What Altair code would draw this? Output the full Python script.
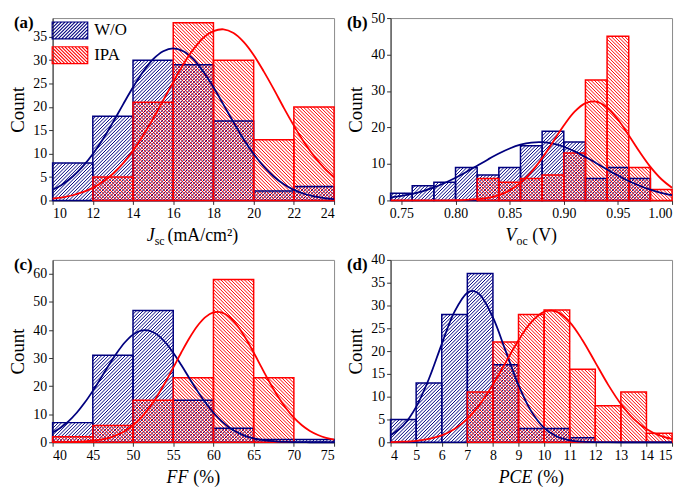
import math
import altair as alt
import pandas as pd

NAVY = "#00007f"
RED = "#ff0000"
FONT = "Liberation Serif"
W, H = 284, 184
STEP = 3.4

# ---------------- data ----------------
# (a) Jsc
a_edges = [10, 12, 14, 16, 18, 20, 22, 24]
a_wo = [8, 18, 30, 29, 17, 2, 3]
a_ipa = [0, 5, 21, 38, 30, 13, 20]
a_cx = [10, 10.5, 11, 11.5, 12, 12.5, 13, 13.5, 14, 14.5, 15, 15.5, 16, 16.5, 17,
        17.5, 18, 18.5, 19, 19.5, 20, 20.5, 21, 21.5, 22, 22.5, 23, 23.5, 24]
a_cwo = [2.27, 3.47, 5.12, 7.27, 9.95, 13.1, 16.7, 20.5, 24.2, 27.5, 30.2, 31.9, 32.5, 31.9, 30.2,
         27.5, 24.2, 20.5, 16.7, 13.1, 9.95, 7.27, 5.12, 3.47, 2.27, 1.43, 0.87, 0.51, 0.29]
a_cipa = [0.41, 0.68, 1.11, 1.76, 2.69, 3.98, 5.70, 7.92, 10.65, 13.9, 17.5, 21.4, 25.3, 29.1, 32.3,
          34.8, 36.2, 36.6, 35.8, 33.9, 31.1, 27.6, 23.8, 19.8, 16.0, 12.5, 9.49, 6.97, 4.95]
a_xticks = [10, 12, 14, 16, 18, 20, 22, 24]
a_yticks = [0, 5, 10, 15, 20, 25, 30, 35]

# (b) Voc
b_edges = [0.74, 0.76, 0.78, 0.80, 0.82, 0.84, 0.86, 0.88, 0.90, 0.92, 0.94, 0.96, 0.98, 1.00]
b_wo = [2, 4, 5, 9, 7, 9, 15, 19, 16, 6, 9, 6, 0]
b_ipa = [0, 0, 0, 0, 6, 5, 6, 7, 13, 33, 45, 9, 3]
b_cx = [0.74, 0.75, 0.76, 0.77, 0.78, 0.79, 0.80, 0.81, 0.82, 0.83, 0.84, 0.85, 0.86, 0.87,
        0.88, 0.89, 0.90, 0.91, 0.92, 0.93, 0.94, 0.95, 0.96, 0.97, 0.98, 0.99, 1.00]
b_cwo = [0.80, 1.22, 1.80, 2.58, 3.57, 4.79, 6.22, 7.82, 9.53, 11.25, 12.86, 14.24, 15.28, 15.88,
         15.98, 15.57, 14.71, 13.45, 11.92, 10.22, 8.50, 6.84, 5.33, 4.03, 2.95, 2.09, 1.43]
b_cipa = [0, 0, 0, 0, 0.01, 0.02, 0.05, 0.14, 0.33, 0.72, 1.47, 2.76, 4.81, 7.77,
          11.60, 16.04, 20.53, 24.33, 26.69, 27.10, 25.48, 22.18, 17.87, 13.33, 9.20, 5.88, 3.48]
b_xticks = [0.75, 0.80, 0.85, 0.90, 0.95, 1.00]
b_yticks = [0, 10, 20, 30, 40, 50]

# (c) FF
c_edges = [40, 45, 50, 55, 60, 65, 70, 75]
c_wo = [7, 31, 47, 15, 5, 1, 1]
c_ipa = [2, 6, 15, 23, 58, 23, 0]
c_cx = [40, 41, 42, 43, 44, 45, 46, 47, 48, 49, 50, 51, 52, 53, 54, 55, 56, 57,
        58, 59, 60, 61, 62, 63, 64, 65, 66, 67, 68, 69, 70, 71, 72, 73, 74, 75]
c_cwo = [3.47, 5.21, 7.54, 10.52, 14.14, 18.32, 22.86, 27.51, 31.89, 35.64, 38.37, 39.82,
         39.82, 38.37, 35.64, 31.89, 27.51, 22.86, 18.32, 14.14, 10.52, 7.54, 5.21, 3.47,
         2.22, 1.38, 0.82, 0.47, 0.26, 0.14, 0.07, 0.03, 0.01, 0.01, 0, 0]
c_cipa = [0.02, 0.04, 0.08, 0.16, 0.30, 0.55, 0.95, 1.60, 2.59, 4.03, 6.05, 8.77,
          12.22, 16.43, 21.29, 26.58, 31.98, 37.07, 41.43, 44.60, 46.29, 46.29, 44.60, 41.43,
          37.07, 31.98, 26.58, 21.29, 16.43, 12.22, 8.77, 6.05, 4.03, 2.59, 1.60, 0.95]
c_xticks = [40, 45, 50, 55, 60, 65, 70, 75]
c_yticks = [0, 10, 20, 30, 40, 50, 60]

# (d) PCE
d_edges = [4, 5, 6, 7, 8, 9, 10, 11, 12, 13, 14, 15]
d_wo = [5, 13, 28, 37, 17, 3, 3, 1, 0, 0, 0]
d_ipa = [0, 0, 0, 11, 22, 28, 29, 16, 8, 11, 2]
d_cx = [4, 4.5, 5, 5.5, 6, 6.5, 7, 7.25, 7.5, 8, 8.5, 9, 9.5, 10, 10.5, 11, 11.5, 12,
        12.5, 13, 13.5, 14, 14.5, 15]
d_cwo = [1.53, 3.71, 7.75, 13.93, 21.54, 28.65, 32.80, 33.17, 32.31, 27.39, 19.98, 12.54,
         6.77, 3.15, 1.26, 0.43, 0.13, 0.03, 0.01, 0, 0, 0, 0, 0]
d_cipa = [0.05, 0.13, 0.32, 0.73, 1.51, 2.91, 5.15, 6.65, 8.41, 12.65, 17.53, 22.39,
          26.37, 28.61, 28.61, 26.37, 22.39, 17.53, 12.65, 8.41, 5.15, 2.91, 1.51, 0.73]
d_xticks = [4, 5, 6, 7, 8, 9, 10, 11, 12, 13, 14, 15]
d_yticks = [0, 5, 10, 15, 20, 25, 30, 35, 40]

SERIES = ["W/O", "IPA"]


# ---------------- hatch styling helpers ----------------
def hatch_segments(edges, counts, lo, hi, ymax, direction):
    """45-degree hatch lines clipped to each bar (pattern anchored to the plot)."""
    rows = []
    for i, h in enumerate(counts):
        if h <= 0:
            continue
        X0 = (edges[i] - lo) / (hi - lo) * W
        X1 = (edges[i + 1] - lo) / (hi - lo) * W
        Yt = H * (1 - h / ymax)
        Yb = H
        if direction == "/":
            kmin = math.floor((X0 + Yt) / STEP)
            kmax = math.ceil((X1 + Yb) / STEP)
            for k in range(kmin, kmax + 1):
                c = k * STEP
                xa, xb = max(X0, c - Yb), min(X1, c - Yt)
                if xb - xa > 0.3:
                    rows.append((xa, c - xa, xb, c - xb))
        else:
            kmin = math.floor((X0 - Yb) / STEP)
            kmax = math.ceil((X1 - Yt) / STEP)
            for k in range(kmin, kmax + 1):
                c = k * STEP
                xa, xb = max(X0, c + Yt), min(X1, c + Yb)
                if xb - xa > 0.3:
                    rows.append((xa, xa - c, xb, xb - c))
    out = []
    for xa, ya, xb, yb in rows:
        out.append({
            "x": lo + xa / W * (hi - lo), "y": ymax * (1 - ya / H),
            "x2": lo + xb / W * (hi - lo), "y2": ymax * (1 - yb / H),
        })
    return pd.DataFrame(out, columns=["x", "y", "x2", "y2"])


def legend_path(direction):
    a = 36 / 17.0
    step = STEP / 8.5
    parts = [f"M{-a:.3f},-1H{a:.3f}V1H{-a:.3f}Z"]
    k = math.floor(-(a + 1) / step)
    while k * step <= a + 1:
        c = k * step
        xa, xb = max(-a, c - 1), min(a, c + 1)
        if xb - xa > 0.05:
            if direction == "/":
                parts.append(f"M{xa:.3f},{c - xa:.3f}L{xb:.3f},{c - xb:.3f}")
            else:
                parts.append(f"M{xa:.3f},{xa - c:.3f}L{xb:.3f},{xb - c:.3f}")
        k += 1
    return "".join(parts)


def text_layer(txt, x, y, size=18, italic=False, bold=False, align="left", baseline="alphabetic"):
    return alt.Chart(pd.DataFrame({"k": [0]})).mark_text(
        text=txt, font=FONT, fontSize=size, fontStyle="italic" if italic else "normal",
        fontWeight="bold" if bold else "normal", align=align, baseline=baseline, color="black",
    ).encode(x=alt.value(x), y=alt.value(y))


def panel(label, label_dx, edges, wo, ipa, cx, cwo, cipa, ymax, xticks, yticks, xfmt,
          title_parts, with_legend=False):
    lo, hi = edges[0], edges[-1]
    xs = alt.Scale(domain=[lo, hi], nice=False, zero=False)
    ys = alt.Scale(domain=[0, ymax], nice=False, zero=True)
    xaxis = alt.Axis(values=xticks, format=xfmt, title=None)
    yaxis = alt.Axis(values=yticks, format="d", title="Count", titlePadding=5)

    def X(f):
        return alt.X(f, type="quantitative", scale=xs, axis=xaxis)

    def Y(f):
        return alt.Y(f, type="quantitative", scale=ys, axis=yaxis)

    hw = hatch_segments(edges, wo, lo, hi, ymax, "/")
    hi_ = hatch_segments(edges, ipa, lo, hi, ymax, "\\")
    hatch_wo = alt.Chart(hw).mark_rule(color=NAVY, strokeWidth=1.0).encode(
        x=X("x"), y=Y("y"), x2="x2", y2="y2")
    hatch_ipa = alt.Chart(hi_).mark_rule(color=RED, strokeWidth=1.0).encode(
        x=X("x"), y=Y("y"), x2="x2", y2="y2")

    def bars(counts, color):
        df = pd.DataFrame({"x0": edges[:-1], "x1": edges[1:], "count": counts,
                           "base": [0] * len(counts)})
        df = df[df["count"] > 0]
        return alt.Chart(df).mark_rect(fillOpacity=0, stroke=color, strokeWidth=1.5).encode(
            x=X("x0"), x2="x1", y=Y("count"), y2="base")

    def curve(vals, color):
        df = pd.DataFrame({"cx": cx, "v": vals})
        return alt.Chart(df).mark_line(color=color, strokeWidth=1.8,
                                       interpolate="catmull-rom").encode(x=X("cx"), y=Y("v"))

    layers = [hatch_wo, hatch_ipa, bars(wo, NAVY), bars(ipa, RED),
              curve(cwo, NAVY), curve(cipa, RED)]
    cxp = W / 2
    for p in title_parts:
        layers.append(text_layer(p["t"], cxp + p["dx"], H + 41 + p.get("dy", 0),
                                 size=p.get("size", 18), italic=p.get("it", False),
                                 align=p.get("align", "left")))
    layers.append(text_layer(label, label_dx, -3, size=17, bold=True, baseline="top"))

    if with_legend:
        leg = alt.Legend(title=None, orient="none", legendX=-1, legendY=3, padding=0,
                         symbolSize=289, symbolStrokeWidth=1.1, symbolOffset=9,
                         labelOffset=15, labelFont=FONT, labelFontSize=17,
                         labelColor="black", rowPadding=2, labelLimit=0)
        ldf = pd.DataFrame({"series": SERIES})
        layers.append(alt.Chart(ldf).mark_point(opacity=0, filled=False).encode(
            x=alt.value(0), y=alt.value(0),
            color=alt.Color("series:N", scale=alt.Scale(domain=SERIES, range=[NAVY, RED]),
                            legend=leg),
            shape=alt.Shape("series:N",
                            scale=alt.Scale(domain=SERIES,
                                            range=[legend_path("/"), legend_path("\\")]),
                            legend=leg),
        ))
    return alt.layer(*layers).properties(width=W, height=H)


pa = panel("(a)", -39, a_edges, a_wo, a_ipa, a_cx, a_cwo, a_cipa, 39, a_xticks, a_yticks, "d",
           [{"t": "J", "dx": -39, "it": True, "align": "right"},
            {"t": "sc", "dx": -39, "size": 12, "dy": 4},
            {"t": "(mA/cm²)", "dx": -26}], with_legend=True)
pb = panel("(b)", -44, b_edges, b_wo, b_ipa, b_cx, b_cwo, b_cipa, 50, b_xticks, b_yticks, ".2f",
           [{"t": "V", "dx": -15, "it": True, "align": "right"},
            {"t": "oc", "dx": -15, "size": 12, "dy": 4},
            {"t": "(V)", "dx": 1}])
pc = panel("(c)", -39, c_edges, c_wo, c_ipa, c_cx, c_cwo, c_cipa, 65, c_xticks, c_yticks, "d",
           [{"t": "FF", "dx": -5, "it": True, "align": "right"},
            {"t": "(%)", "dx": 0}])
pd_ = panel("(d)", -44, d_edges, d_wo, d_ipa, d_cx, d_cwo, d_cipa, 40, d_xticks, d_yticks, "d",
            [{"t": "PCE", "dx": 1, "it": True, "align": "right"},
             {"t": "(%)", "dx": 6}])

row1 = alt.hconcat(pa, pb, spacing=7).resolve_scale(color="independent", shape="independent")
row2 = alt.hconcat(pc, pd_, spacing=7).resolve_scale(color="independent", shape="independent")

chart = alt.vconcat(row1, row2, spacing=4).resolve_scale(
    color="independent", shape="independent"
).properties(
    padding={"left": 0, "top": 0, "right": 0, "bottom": 0}
).configure_view(
    stroke="#8a8a8a", strokeWidth=1
).configure_axis(
    grid=False, labelFont=FONT, labelFontSize=14, labelColor="black", labelPadding=2,
    titleFont=FONT, titleFontSize=19, titleFontWeight="normal", titleColor="black",
    domainColor="#333333", domainWidth=1, tickColor="#333333", tickSize=4, tickWidth=1,
)

chart.save("out.html", embed_options={"renderer": "svg", "actions": False})
